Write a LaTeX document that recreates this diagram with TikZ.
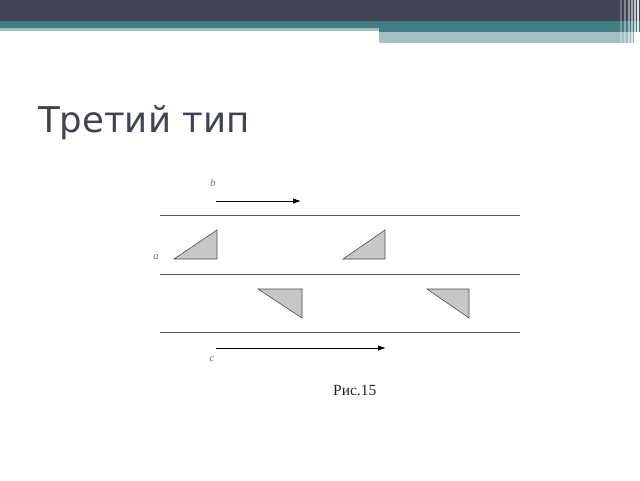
\documentclass[tikz,border=0pt]{standalone}
\usepackage{fontspec}
\setmainfont{Liberation Serif}
\newfontfamily\titlefont{DejaVu Sans}
\usetikzlibrary{arrows.meta}
\begin{document}
\begin{tikzpicture}[x=1pt,y=-1pt,
  road/.style={draw=black!65,line width=0.8pt},
  tri/.style={draw=black!70,fill=black!22,line width=0.6pt},
  mv/.style={draw=black,line width=0.9pt,-{Latex[length=8pt,width=5.5pt]}},
  lbl/.style={font=\fontsize{10.5}{11}\selectfont\itshape,text=black!55,inner sep=0pt}]
\useasboundingbox (0,0) rectangle (640,480);
\fill[white] (0,0) rectangle (640,480);
% header
\definecolor{hdark}{HTML}{404354}
\definecolor{hteal}{HTML}{437E82}
\definecolor{hlight}{HTML}{A3C0C3}
\fill[hdark] (0,0) rectangle (640,21);
\fill[hteal] (0,21) rectangle (640,28);
\fill[hlight] (0,28) rectangle (379,31);
\fill[hteal] (379,28) rectangle (640,32);
\fill[hlight] (379,32) rectangle (634,43);
\foreach \xx/\op in {620/0.25,624/0.35,628/0.45,631/0.55,634/0.7,637/0.85}
  \fill[white,opacity=\op] (\xx,0) rectangle (\xx+2,43);
% title
\node[anchor=base west,inner sep=0pt,text=hdark,font=\titlefont\fontsize{35.5}{40}\selectfont] (title) at (38,132) {Третий тип};
% roads
\coordinate (l1a) at (160,215); \coordinate (l1b) at (520,215);
\coordinate (l2a) at (160,274); \coordinate (l2b) at (520,274);
\coordinate (l3a) at (160,332); \coordinate (l3b) at (520,332);
\draw[road] (l1a) -- (l1b);
\draw[road] (l2a) -- (l2b);
\draw[road] (l3a) -- (l3b);
% triangles
\draw[tri] (174,259) -- (217,259) -- (217,230) -- cycle;
\draw[tri] (343,259) -- (385,259) -- (385,230) -- cycle;
\draw[tri] (258,289) -- (302,289) -- (302,318) -- cycle;
\draw[tri] (427,289) -- (469,289) -- (469,318) -- cycle;
% arrows
\coordinate (b1) at (216,201); \coordinate (b2) at (301,201);
\coordinate (c1) at (216,348); \coordinate (c2) at (386,348);
\draw[mv] (b1) -- (b2);
\draw[mv] (c1) -- (c2);
% labels
\node[lbl] (lb) at (213,183) {b};
\node[lbl] (la) at (156,257) {a};
\node[lbl] (lc) at (212,359) {c};
\node[anchor=base west,inner sep=0pt,font=\fontsize{15.5}{17}\selectfont,text=black!85] (fig) at (333,395) {Рис.15};
\end{tikzpicture}
\end{document}
